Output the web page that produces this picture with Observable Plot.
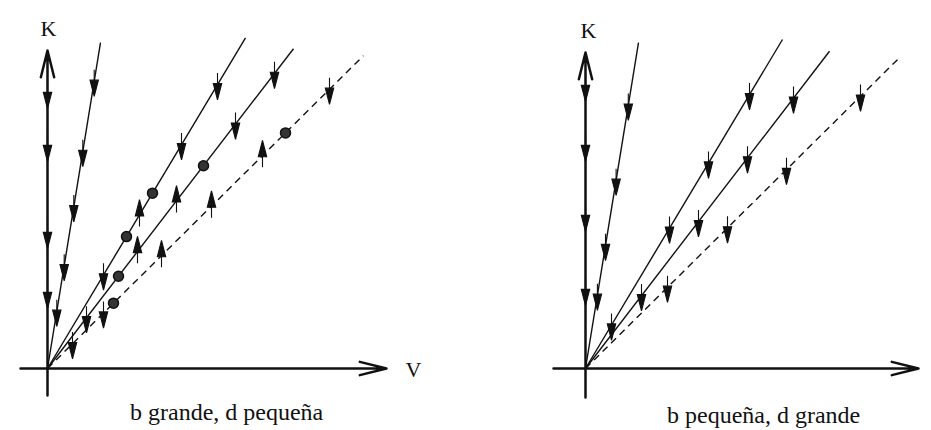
<!DOCTYPE html>
<html>
<head>
<meta charset="utf-8">
<script src="https://cdn.jsdelivr.net/npm/d3@7"></script>
<script src="https://cdn.jsdelivr.net/npm/@observablehq/plot@0.6"></script>
<style>
  html, body { margin: 0; padding: 0; background: #fff; overflow: hidden; }
  #wrap { position: relative; width: 931px; height: 430px; }
  .panel { position: absolute; top: 0; }
  .panel figure { margin: 0; }
  .panel figcaption {
    font: 24px "Liberation Serif", "Times New Roman", serif;
    color: #111; padding-left: 130px; line-height: 27px; white-space: nowrap;
  }
  #pa figcaption { margin-top: 1px; }
  #pb figcaption { margin-top: 4px; padding-left: 129px; }
</style>
</head>
<body>
<div id="wrap">
  <div class="panel" id="pa" style="left:0px"></div>
  <div class="panel" id="pb" style="left:538px"></div>
</div>
<script>
// ---- shared rays from the origin (slope K/V) ----
const raySlopes = [6.15, 1.67, 1.30, 0.99];
const rayDashed = [false, false, false, true];

// ---- Panel A: b grande, d pequeña ----
const aCaption = "b grande, d pequeña";
const aRayEndV = [0.53, 1.98, 2.46, 3.16];
const aVAxis = [-0.27, 3.39];
const aKAxis = [-0.27, 3.18];
const aAxisArrowsK = [2.75, 2.22, 1.35, 0.75];
const aArrowRay = [0, 0, 0, 0, 0,  1, 1, 1, 1,  2, 2, 2, 2, 2,  3, 3, 3, 3, 3, 3];
const aArrowV   = [0.467, 0.353, 0.263, 0.167, 0.093,
                   1.70, 1.34, 0.92, 0.56,
                   2.27, 1.88, 1.29, 0.90, 0.39,
                   2.82, 2.15, 1.64, 1.14, 0.56, 0.25];
const aArrowDir = ["down", "down", "down", "down", "down",
                   "down", "down", "up", "down",
                   "down", "down", "up", "up", "down",
                   "down", "up", "up", "up", "down", "down"];
const aCircleRay = [1, 1, 2, 2, 3, 3];
const aCircleV   = [1.05, 0.79, 1.56, 0.71, 2.38, 0.66];
const aLabelText = ["K", "V"];
const aLabelV    = [0.01, 3.66];
const aLabelK    = [3.40, -0.01];

// ---- Panel B: b pequeña, d grande ----
const bCaption = "b pequeña, d grande";
const bRayEndV = [0.53, 1.97, 2.44, 3.15];
const bVAxis = [-0.32, 3.33];
const bKAxis = [-0.29, 3.16];
const bAxisArrowsK = [2.82, 2.22, 1.52, 0.78];
const bArrowRay = [0, 0, 0, 0,  1, 1, 1, 1,  2, 2, 2, 2,  3, 3, 3, 3];
const bArrowV   = [0.428, 0.306, 0.200, 0.119,
                   1.64, 1.23, 0.84, 0.26,
                   2.08, 1.62, 1.13, 0.56,
                   2.75, 2.01, 1.42, 0.82];
const bArrowDir = bArrowV.map(() => "down");
const bCircleRay = [];
const bCircleV   = [];
const bLabelText = ["K"];
const bLabelV    = [0.03];
const bLabelK    = [3.38];

// ---- layout ----
const ORIGIN_X = 47, ORIGIN_Y = 368, UNIT = 100, H = 398;
const INK = "#111";

function arrowGlyph(dir) {
  const k = dir === "up" ? -1 : 1;
  return {
    draw(ctx, size) {
      const s = Math.sqrt(size / Math.PI) / 3;
      ctx.moveTo(0, -10 * s * k); ctx.lineTo(0, 0);
      ctx.moveTo(-3.6 * s, -1 * s * k);
      ctx.lineTo(3.6 * s, -1 * s * k);
      ctx.lineTo(0, 13 * s * k);
      ctx.closePath();
    }
  };
}

function panel(cfg) {
  const W = cfg.width;
  const rays = raySlopes.map((s, i) => ({V: cfg.rayEndV[i], K: cfg.rayEndV[i] * s, dashed: rayDashed[i]}));
  const onRay = (r, V) => ({V, K: V * raySlopes[r]});
  const down = cfg.axisArrowsK.map(K => ({V: 0, K}));
  const up = [];
  cfg.arrowRay.forEach((r, j) => (cfg.arrowDir[j] === "up" ? up : down).push(onRay(r, cfg.arrowV[j])));
  const circles = cfg.circleRay.map((r, j) => onRay(r, cfg.circleV[j]));
  const labels = cfg.labelText.map((t, j) => ({t, V: cfg.labelV[j], K: cfg.labelK[j]}));
  const axes = [
    {x1: cfg.vAxis[0], y1: 0, x2: cfg.vAxis[1], y2: 0},
    {x1: 0, y1: cfg.kAxis[0], x2: 0, y2: cfg.kAxis[1]}
  ];
  return Plot.plot({
    width: W, height: H,
    marginLeft: 0, marginRight: 0, marginTop: 0, marginBottom: 0,
    style: {background: "transparent", overflow: "visible"},
    x: {domain: [-ORIGIN_X / UNIT, (W - ORIGIN_X) / UNIT], axis: null},
    y: {domain: [-(H - ORIGIN_Y) / UNIT, ORIGIN_Y / UNIT], axis: null},
    caption: cfg.caption,
    marks: [
      Plot.link(rays.filter(d => !d.dashed), {x1: 0, y1: 0, x2: "V", y2: "K", stroke: INK, strokeWidth: 1.4}),
      Plot.link(rays.filter(d => d.dashed), {x1: 0, y1: 0, x2: "V", y2: "K", stroke: INK, strokeWidth: 1.4, strokeDasharray: "7,5"}),
      Plot.arrow(axes, {x1: "x1", y1: "y1", x2: "x2", y2: "y2", stroke: INK, strokeWidth: 2.5, headAngle: 28, headLength: 16.5}),
      Plot.dot(down, {x: "V", y: "K", symbol: arrowGlyph("down"), r: 3.5, fill: INK, stroke: INK, strokeWidth: 1.1}),
      Plot.dot(up, {x: "V", y: "K", symbol: arrowGlyph("up"), r: 3.5, fill: INK, stroke: INK, strokeWidth: 1.1}),
      Plot.dot(circles, {x: "V", y: "K", r: 5, fill: "#333", stroke: INK, strokeWidth: 1.5}),
      Plot.text(labels, {x: "V", y: "K", text: "t", fontSize: 22, fontFamily: "Liberation Serif", fill: INK})
    ]
  });
}

document.getElementById("pa").append(panel({
  width: 440, caption: aCaption, rayEndV: aRayEndV, vAxis: aVAxis, kAxis: aKAxis,
  axisArrowsK: aAxisArrowsK, arrowRay: aArrowRay, arrowV: aArrowV, arrowDir: aArrowDir,
  circleRay: aCircleRay, circleV: aCircleV, labelText: aLabelText, labelV: aLabelV, labelK: aLabelK
}));
document.getElementById("pb").append(panel({
  width: 393, caption: bCaption, rayEndV: bRayEndV, vAxis: bVAxis, kAxis: bKAxis,
  axisArrowsK: bAxisArrowsK, arrowRay: bArrowRay, arrowV: bArrowV, arrowDir: bArrowDir,
  circleRay: bCircleRay, circleV: bCircleV, labelText: bLabelText, labelV: bLabelV, labelK: bLabelK
}));
</script>
</body>
</html>
